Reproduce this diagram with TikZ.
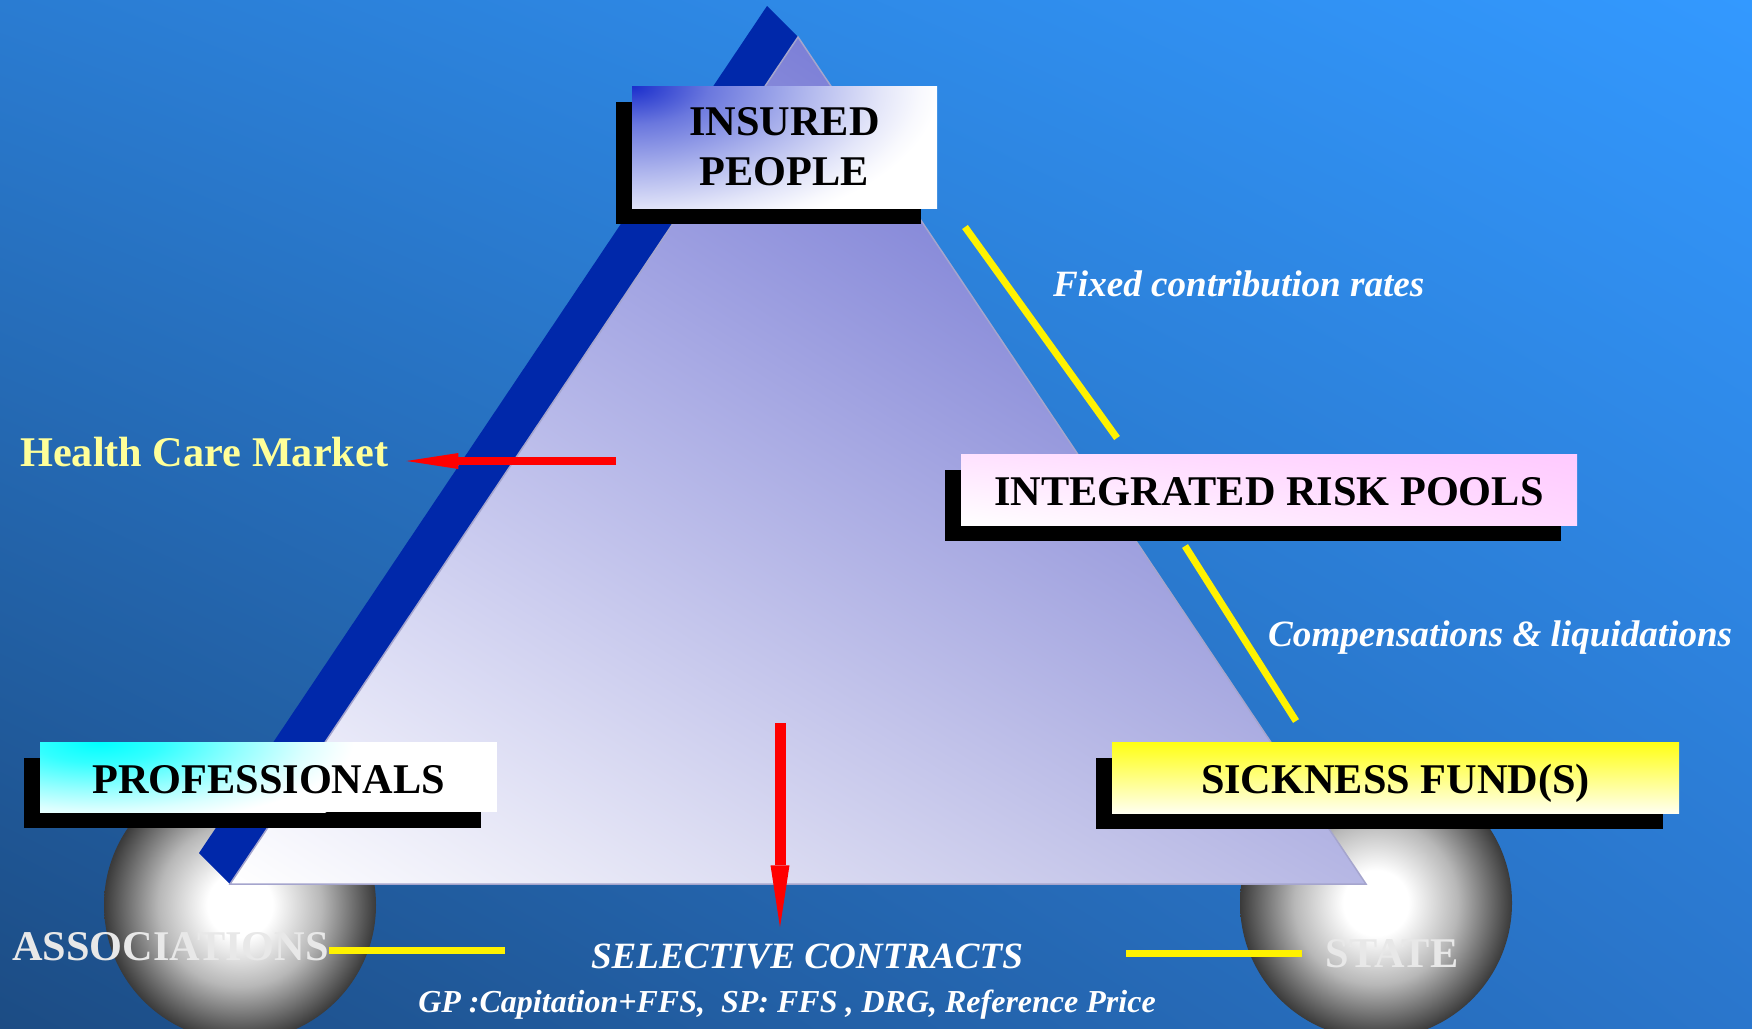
\documentclass[tikz,border=0pt]{standalone}
\usepackage{fontspec}
\setmainfont{Liberation Serif}
\usepackage{tikz}
\usetikzlibrary{arrows.meta,positioning,calc,shadows,shadings}

\definecolor{bgul}{RGB}{42,124,210}
\definecolor{bgur}{RGB}{51,153,255}
\definecolor{bgll}{RGB}{28,76,132}
\definecolor{bglr}{RGB}{42,118,204}
\definecolor{triul}{RGB}{165,167,230}
\definecolor{triur}{RGB}{84,88,200}
\definecolor{trill}{RGB}{255,255,255}
\definecolor{trilr}{RGB}{182,183,228}
\definecolor{triedge}{RGB}{165,165,205}
\definecolor{stripe}{RGB}{0,40,170}
\definecolor{insblue}{RGB}{26,46,204}
\definecolor{poolul}{RGB}{255,226,255}
\definecolor{poolur}{RGB}{255,202,255}
\definecolor{poollr}{RGB}{255,216,255}
\definecolor{fundtop}{RGB}{255,255,20}
\definecolor{fundmid}{RGB}{255,255,200}
\definecolor{fundbot}{RGB}{255,255,240}
\definecolor{mktyellow}{RGB}{255,255,153}
\definecolor{ballgrey}{RGB}{232,232,232}
\definecolor{balledge}{RGB}{58,58,58}

\newcommand{\boxfont}{\fontsize{42.3}{50}\selectfont\bfseries}
\newcommand{\notefont}{\fontsize{37.1}{44}\selectfont\bfseries\itshape}
\newcommand{\gpfont}{\fontsize{32}{38}\selectfont\bfseries\itshape}

\pgfdeclareradialshading{ball}{\pgfpoint{0bp}{0bp}}{%
  color(0bp)=(white); color(6bp)=(white); color(15bp)=(black!28);
  color(25bp)=(balledge); color(50bp)=(balledge)}
\pgfdeclareradialshading{insglow}{\pgfpoint{0bp}{0bp}}{%
  color(0bp)=(insblue); color(4bp)=(insblue!65!white);
  color(9bp)=(insblue!35!white); color(13bp)=(insblue!12!white);
  color(15bp)=(insblue!3!white); color(16bp)=(white); color(50bp)=(white)}
\pgfdeclareradialshading{profglow}{\pgfpoint{0bp}{0bp}}{%
  color(0bp)=(cyan); color(4bp)=(cyan!80!white);
  color(9bp)=(cyan!42!white); color(13bp)=(cyan!14!white);
  color(15bp)=(cyan!4!white); color(16bp)=(white); color(50bp)=(white)}

\tikzset{
  box/.style={font=\boxfont, align=center, inner sep=0pt, fill=white,
              drop shadow={shadow xshift=-16pt, shadow yshift=-16pt,
                           fill=black, opacity=1}},
  onerow/.style={text height=32pt, text depth=0pt},
  note/.style={font=\notefont, text=white, inner sep=0pt},
  balltext/.style={font=\boxfont, text=ballgrey, inner sep=0pt},
  ylink/.style={draw=yellow, line width=7pt},
  flow/.style={draw=red, line width=#1}
}

\begin{document}
\begin{tikzpicture}[x=1pt, y=-1pt]
\useasboundingbox (0,0) rectangle (1752,1028);
\clip (0,0) rectangle (1752,1028);
\shade[upper left=bgul, upper right=bgur, lower left=bgll, lower right=bglr]
  (0,0) rectangle (1752,1028);

\shade[shading=ball] (240,905) circle (136);
\shade[shading=ball] (1376,903) circle (136);

\coordinate (apex) at (798,37);
\coordinate (left) at (230,884);
\coordinate (right) at (1366,884);
\fill[stripe] (767,6) -- (apex) -- (left) -- (199,853) -- cycle;
\shade[draw=triedge, line width=1.5pt,
       upper left=triul, upper right=triur, lower left=trill, lower right=trilr]
  (apex) -- (right) -- (left) -- cycle;

\node[box, minimum width=305, minimum height=122,
      path picture={\shade[shading=insglow]
        (path picture bounding box.north west) ellipse (480 and 240);}]
  (insured) at (784.5,147) {INSURED\\PEOPLE};
\node[box, onerow, minimum width=457, minimum height=70,
      path picture={\shade[shading=profglow]
        (path picture bounding box.north west) ellipse (340 and 130);}]
  (prof) at (268.5,777) {PROFESSIONALS};
\node[box, onerow, minimum width=616, minimum height=71,
      upper left=poolul, upper right=poolur, lower left=white, lower right=poollr]
  (pools) at (1269,489.5) {INTEGRATED RISK POOLS};
\node[box, onerow, minimum width=567, minimum height=71,
      top color=fundtop, middle color=fundmid, bottom color=fundbot]
  (funds) at (1395.5,777.5) {SICKNESS FUND(S)};

\node[balltext, anchor=base west] (assoc) at (12,960) {ASSOCIATIONS};
\node[balltext, anchor=base] (state) at (1392,967) {STATE};
\node[font=\boxfont, text=mktyellow, inner sep=0pt, anchor=base west]
  (market) at (20,466) {Health Care Market};
\node[note, anchor=base west] (rates) at (1053,296) {Fixed contribution rates};
\node[note, anchor=base west] (comp) at (1268,646) {Compensations \& liquidations};
\node[note, anchor=base] (select) at (807,968) {SELECTIVE CONTRACTS};
\node[note, font=\gpfont, anchor=base] (pay) at (787,1012)
  {GP :Capitation+FFS,\ \ SP: FFS , DRG, Reference Price};

\coordinate (r1) at (965,227);
\coordinate (r2) at (1117,438);
\coordinate (c1) at (1185,546);
\coordinate (c2) at (1296,721);
\draw[ylink] (r1) -- (r2);
\draw[ylink] (c1) -- (c2);
\draw[ylink] ([yshift=-4pt]assoc.east) -- ++(176,0);
\draw[ylink] ([xshift=-24pt]state.west) -- ++(-176,0);

\coordinate (mkt) at (616,461);
\coordinate (sel) at (780,723);
\draw[flow=8pt, -{Triangle[length=52pt, width=16pt, line width=0pt]}, shorten >=18pt]
  (mkt) -- (mkt -| market.east);
\draw[flow=11pt, -{Triangle[length=62pt, width=19pt, line width=0pt]}, shorten >=16pt]
  (sel) -- (sel |- select.north);
\end{tikzpicture}
\end{document}
